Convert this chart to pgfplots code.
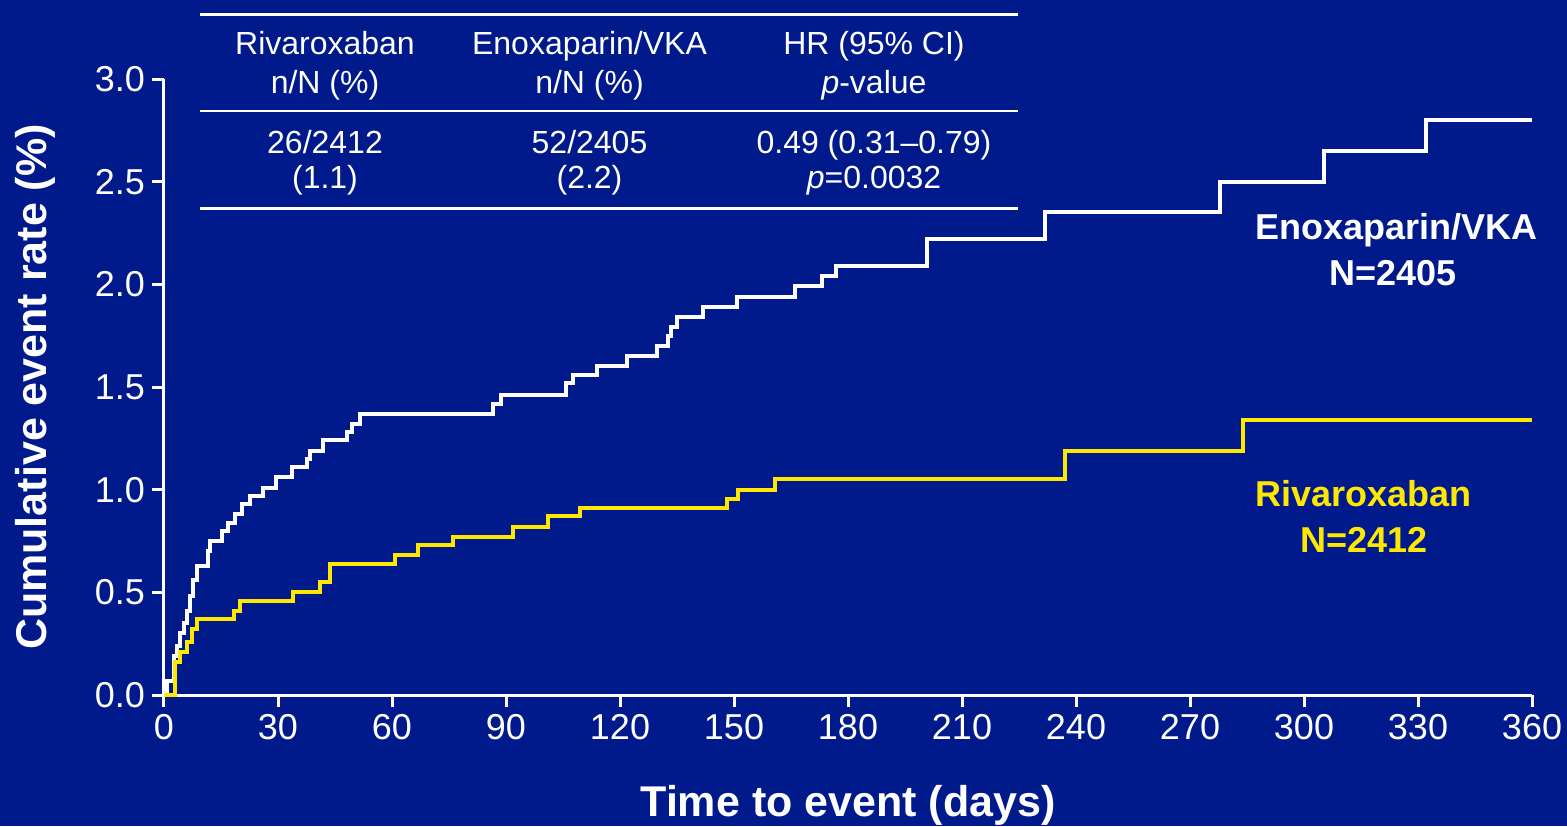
\documentclass[border=0pt]{standalone}
\usepackage{fontspec}
\setmainfont{Liberation Sans}
\usepackage{pgfplots}
\pgfplotsset{compat=1.18}

\definecolor{bgblue}{RGB}{0,26,140}
\definecolor{rivayellow}{RGB}{255,232,0}

\begin{document}
\begin{tikzpicture}
% slide background
\fill[bgblue] (-82pt,-65.5pt) rectangle (701.5pt,347.5pt);

\begin{axis}[
  scale only axis, width=684pt, height=308pt,
  xmin=0, xmax=360, ymin=0, ymax=3,
  axis x line=bottom, axis y line=left,
  axis line style={white, line width=1.5pt, -},
  tick style={white, line width=1.5pt},
  tick align=outside, major tick length=6pt,
  xtick={0,30,...,360}, ytick={0,0.5,1,1.5,2,2.5,3},
  /pgf/number format/assume math mode=true,
  ticklabel style={font=\fontsize{18}{20}\selectfont, text=white},
  yticklabel style={/pgf/number format/.cd, fixed, fixed zerofill, precision=1},
  label style={font=\bfseries\fontsize{21.5}{24}\selectfont, text=white},
  xlabel={Time to event (days)},
  ylabel={Cumulative event rate (\%)},
  xlabel style={at={(axis description cs:0.5,-0.1786)}, anchor=center},
  ylabel style={at={(axis description cs:-0.0943,0.5)}, anchor=center},
  clip=false,
]
% Enoxaparin/VKA
\addplot[const plot, white, line width=2pt] coordinates {
  (0,0) (0.8,0.07) (2.7,0.19) (3.4,0.24) (4.3,0.30) (5.2,0.35) (6.1,0.41)
  (6.8,0.48) (7.7,0.56) (8.6,0.63) (11.7,0.70) (12.2,0.75) (15.2,0.80)
  (16.9,0.84) (18.7,0.88) (20.4,0.93) (22.6,0.97) (26.1,1.01) (29.5,1.06)
  (33.6,1.11) (37.6,1.15) (38.4,1.19) (41.8,1.24) (48.1,1.28) (49.4,1.32)
  (51.6,1.37) (86.7,1.415) (88.6,1.46) (105.8,1.52) (107.7,1.56)
  (113.9,1.60) (121.8,1.65) (129.7,1.70) (132.7,1.75) (133.3,1.79)
  (134.9,1.84) (141.8,1.89) (150.7,1.94) (166.1,1.99) (173.1,2.04)
  (176.8,2.09) (200.7,2.22) (231.8,2.35) (277.9,2.50) (305.3,2.65)
  (332.1,2.80) (360,2.80)
};
% Rivaroxaban
\addplot[const plot, rivayellow, line width=2pt] coordinates {
  (0,0) (2.9,0.16) (4.1,0.21) (6.0,0.26) (7.3,0.32) (8.6,0.37) (18.3,0.41)
  (20.0,0.46) (34.0,0.50) (41.1,0.55) (43.7,0.64) (60.8,0.68) (66.9,0.73)
  (76.1,0.77) (91.9,0.82) (101.1,0.87) (109.5,0.91) (148.1,0.955)
  (151.1,1.00) (160.8,1.05) (237,1.19) (284,1.34) (360,1.34)
};
\end{axis}

% summary table
\draw[white, line width=1.5pt] (18pt,340pt) -- (427pt,340pt);
\draw[white, line width=1.2pt] (18pt,292pt) -- (427pt,292pt);
\draw[white, line width=1.5pt] (18pt,243.4pt) -- (427pt,243.4pt);
\begin{scope}[every node/.style={anchor=base, text=white, inner sep=0pt,
    font=\fontsize{16}{18}\selectfont}]
  \node at (80.5pt,320pt) {Rivaroxaban};
  \node at (80.5pt,300.5pt) {n/N (\%)};
  \node at (212.75pt,320pt) {Enoxaparin/VKA};
  \node at (212.75pt,300.5pt) {n/N (\%)};
  \node at (355pt,320pt) {HR (95\% CI)};
  \node at (355pt,300.5pt) {\textit{p}-value};
  \node at (80.5pt,270.85pt) {26/2412};
  \node at (80.5pt,253.35pt) {(1.1)};
  \node at (212.75pt,270.85pt) {52/2405};
  \node at (212.75pt,253.35pt) {(2.2)};
  \node at (355pt,270.85pt) {0.49 (0.31--0.79)};
  \node at (355pt,253.35pt) {\textit{p}=0.0032};
\end{scope}

% curve labels
\begin{scope}[every node/.style={anchor=base, inner sep=0pt,
    font=\bfseries\fontsize{18}{20}\selectfont}]
  \node[text=white] at (616.3pt,228pt) {Enoxaparin/VKA};
  \node[text=white] at (614.3pt,205pt) {N=2405};
  \node[text=rivayellow] at (599.7pt,94.2pt) {Rivaroxaban};
  \node[text=rivayellow] at (600pt,71.2pt) {N=2412};
\end{scope}

\pgfresetboundingbox
\path (-82pt,-65.5pt) rectangle (701.5pt,347.5pt);
\end{tikzpicture}
\end{document}
